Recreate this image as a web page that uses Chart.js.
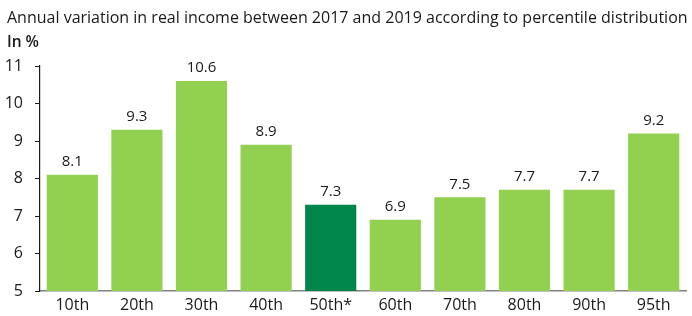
<!DOCTYPE html>
<html>
<head>
<meta charset="utf-8">
<script src="https://cdn.jsdelivr.net/npm/chart.js@4.4.1/dist/chart.umd.min.js"></script>
<style>
  html, body { margin: 0; padding: 0; background: #fff; }
  #wrap { width: 692px; height: 316px; position: relative; }
</style>
</head>
<body>
<div id="wrap"><canvas id="incomeChart" width="692" height="316"></canvas></div>
<script>
const categories = ["10th", "20th", "30th", "40th", "50th*", "60th", "70th", "80th", "90th", "95th"];
const variation = [8.1, 9.3, 10.6, 8.9, 7.3, 6.9, 7.5, 7.7, 7.7, 9.2];
const yTicks = [5, 6, 7, 8, 9, 10, 11];

const LIGHT = "#92d050";
const DARK = "#00854a";
const FONT = "'Open Sans', 'Noto Sans', sans-serif";

// title + unit label drawn at fixed positions
const headerPlugin = {
  id: "header",
  afterDraw(chart) {
    const c = chart.ctx;
    c.save();
    c.fillStyle = "#1a1a1a";
    c.textBaseline = "middle";
    c.textAlign = "left";
    c.font = `16px ${FONT}`;
    c.fillText("Annual variation in real income between 2017 and 2019 according to percentile distribution", 7, 18);
    c.font = `600 15.5px ${FONT}`;
    c.fillText("In %", 7, 43);
    c.restore();
  }
};

// value labels above bars
const valuePlugin = {
  id: "values",
  afterDatasetsDraw(chart) {
    const c = chart.ctx;
    const meta = chart.getDatasetMeta(0);
    c.save();
    c.fillStyle = "#1a1a1a";
    c.font = `15px ${FONT}`;
    c.textAlign = "center";
    c.textBaseline = "middle";
    meta.data.forEach((bar, i) => {
      c.fillText(variation[i].toFixed(1), bar.x, bar.y - 13);
    });
    c.restore();
  }
};

new Chart(document.getElementById("incomeChart").getContext("2d"), {
  type: "bar",
  data: {
    labels: categories,
    datasets: [{
      data: variation,
      backgroundColor: categories.map(c => c === "50th*" ? DARK : LIGHT),
      borderWidth: 0,
      categoryPercentage: 0.8,
      barPercentage: 0.99,
    }],
  },
  options: {
    responsive: false,
    animation: false,
    layout: { padding: { top: 66, right: 6, left: 0, bottom: 0 } },
    plugins: {
      legend: { display: false },
      tooltip: { enabled: false },
    },
    scales: {
      x: {
        afterFit(scale) { scale.height = 25; },
        grid: { display: false, drawTicks: false },
        border: { color: "#808080", width: 1.5 },
        ticks: { color: "#1a1a1a", font: { family: FONT, size: 16 }, padding: 5 },
      },
      y: {
        min: 5,
        max: 11,
        afterFit(scale) { scale.width = 40; },
        afterBuildTicks(scale) { scale.ticks = yTicks.map(v => ({ value: v })); },
        grid: { display: true, drawOnChartArea: false, drawTicks: true, tickLength: 5, color: "#1a1a1a" },
        border: { color: "#1a1a1a", width: 1.2 },
        ticks: { color: "#1a1a1a", font: { family: FONT, size: 16 }, padding: 12 },
      },
    },
  },
  plugins: [headerPlugin, valuePlugin],
});
</script>
</body>
</html>
